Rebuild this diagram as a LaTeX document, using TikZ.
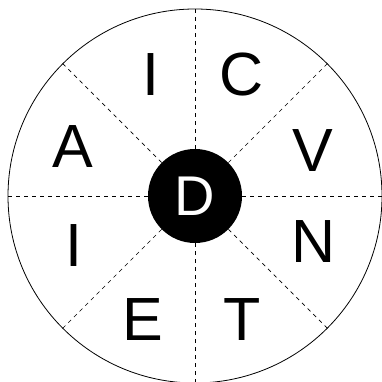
\documentclass[tikz,border=0pt]{standalone}
\usepackage{fontspec}
\setmainfont{Liberation Sans}
\usetikzlibrary{positioning,calc}
\tikzset{
  rim/.style={circle, draw, line width=0.8pt, inner sep=0pt, minimum size=374pt},
  hub/.style={circle, fill=black, text=white, inner sep=0pt, minimum size=94pt,
    font=\fontsize{56}{56}\selectfont},
  spoke/.style={dashed, dash pattern=on 4pt off 4pt, line width=0.7pt},
  letter/.style={inner sep=0pt, font=\fontsize{61}{61}\selectfont}
}
\begin{document}
\begin{tikzpicture}[x=1pt, y=1pt]
  \useasboundingbox (0,0) rectangle (381,382);
  \coordinate (mid) at (195,186);
  \node[rim] (wheel) at (mid) {};
  \node[hub] (hub) at (mid) {D};
  % spokes between hub and rim
  \foreach \a in {0,45,...,315}
    \draw[spoke] (hub.\a) -- (wheel.\a);
  % letters round the wheel
  \foreach \t/\a/\r in {C/69/130, V/21/126, N/-21/127, T/-69/132,
                        E/-113/134, I/-158/131, A/158/132, I/110/129}
    \node[letter] (l\a) at ($(mid)+(\a:\r)$) {\t};
\end{tikzpicture}
\end{document}
